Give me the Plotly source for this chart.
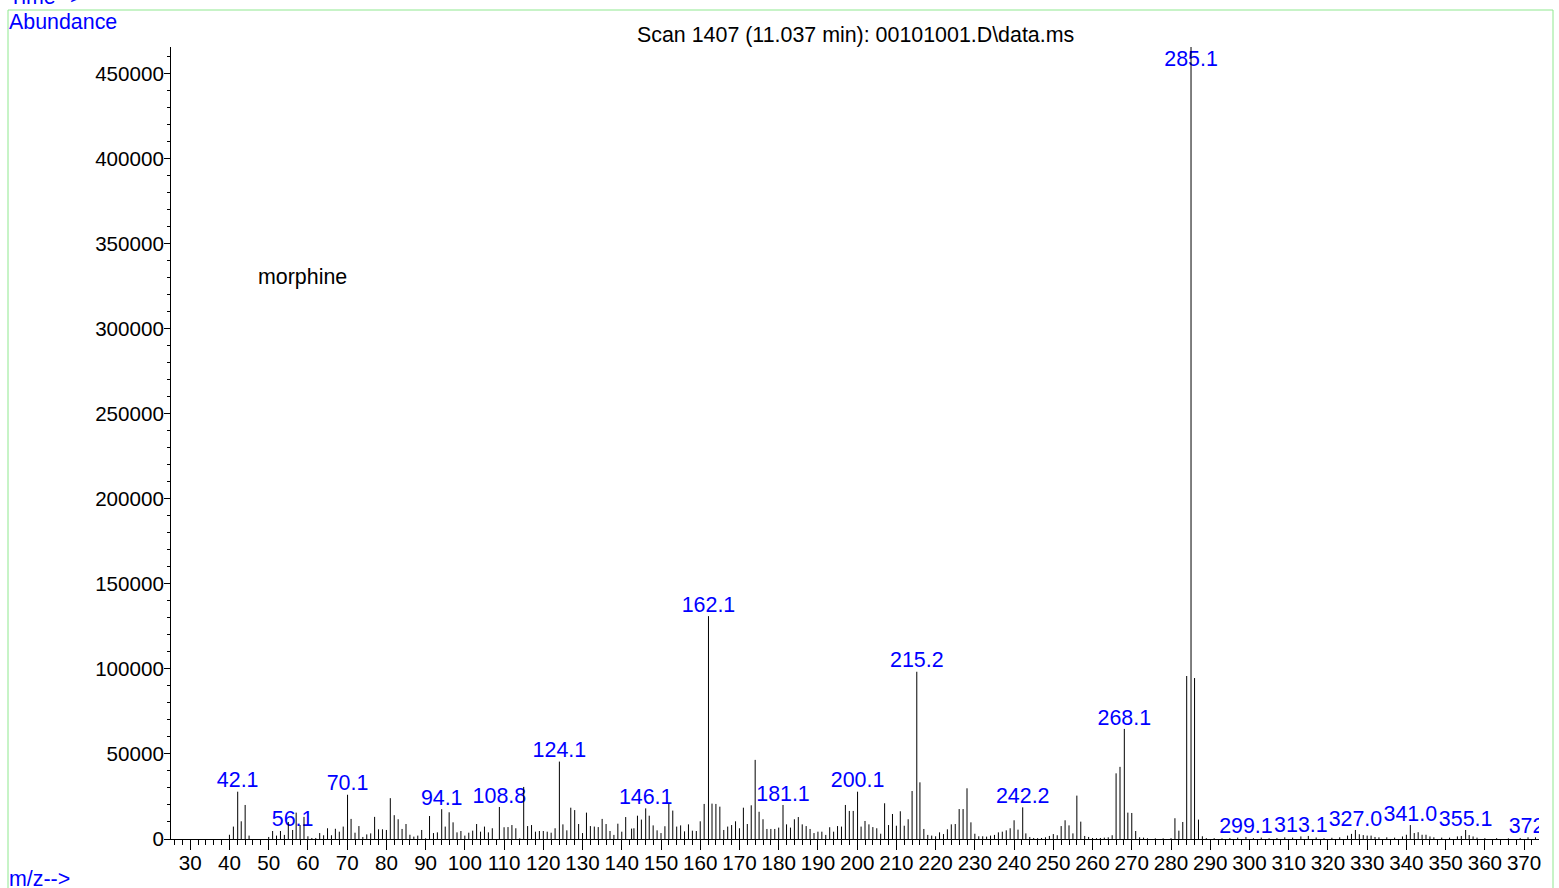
import plotly.graph_objects as go

# ---------------- data (m/z, abundance) ----------------
mz = [40, 41, 42.1, 43, 44, 45, 50, 51, 52, 53, 54, 55, 56.1, 57, 58, 59, 60, 61, 62, 63,
      64, 65, 66, 67, 68, 69, 70.1, 71, 72, 73, 74, 75, 76, 77, 78, 79, 80, 81, 82, 83,
      84, 85, 86, 87, 88, 89, 90, 91, 92, 93, 94.1, 95, 96, 97, 98, 99, 100, 101, 102, 103,
      104, 105, 106, 107, 108.8, 110, 111, 112, 113, 114, 115, 116, 117, 118, 119, 120, 121, 122, 123, 124.1,
      125, 126, 127, 128, 129, 130, 131, 132, 133, 134, 135, 136, 137, 138, 139, 140, 141, 142.5, 143.1, 144,
      145, 146.1, 147, 148, 149, 150, 151, 152, 153, 154, 155, 156, 157, 158, 159, 160, 161, 162.1, 163, 164,
      165, 166, 167, 168, 169, 170, 171, 172, 173, 174, 175, 176, 177, 178, 179, 180, 181.1, 182, 183, 184,
      185, 186, 187, 188, 189, 190, 191, 192, 193, 194, 195, 196, 197, 198, 199, 200.1, 201, 202, 203, 204,
      205, 206, 207, 208, 209, 210, 211, 212, 213, 214, 215.2, 216, 217, 218, 219, 220, 221, 222, 223, 224,
      225, 226, 227, 228, 229, 230, 231, 232, 233, 234, 235, 236, 237, 238, 239, 240, 241, 242.2, 243, 244,
      245, 246, 247, 248, 249, 250, 251, 252, 253, 254, 255, 256, 257, 258, 259, 260, 261, 262, 263, 264,
      265, 266, 267, 268.1, 269, 270, 271, 272, 273, 274, 276, 278, 280, 281, 282, 283, 284, 285.1, 286, 287,
      288, 289, 291, 293, 295, 297, 299.1, 301, 303, 305, 307, 309, 311, 313.1, 315, 317, 319, 321, 323, 325,
      326, 327.0, 328, 329, 330, 331, 332, 333, 335, 337, 339, 340, 341.0, 342, 343, 344, 345, 346, 347, 349,
      351, 353, 354, 355.1, 356, 357, 358, 360, 363, 366, 369, 371, 372.9]

abundance_k = [2.5, 7.3, 27.8, 10.4, 20, 2, 1.2, 4.7, 2, 4.7, 2.4, 10, 5.3, 15.5, 8.2, 13, 1.6, 0.6, 0.6, 3.5,
               2.2, 6.3, 2.2, 6, 4.3, 7.3, 26, 11.8, 3.7, 7.6, 1.2, 2.7, 3.3, 13, 5.7, 5.7, 5.3, 24, 14, 11.6,
               5.9, 8.8, 2.5, 1.4, 2, 5.3, 0.4, 13.5, 3.5, 3.9, 17.5, 7.3, 15.7, 9.8, 3.9, 4.7, 2, 3.7, 4.9, 8.8,
               4.3, 7.3, 3.9, 6.3, 18.8, 6.9, 7, 8.2, 6.3, 0.4, 30.6, 7.6, 8.2, 4.3, 4.7, 4.7, 4.3, 3.7, 6.3, 45.5,
               8.6, 5.1, 18.4, 17, 8.8, 3.5, 15.5, 7.6, 7.3, 7, 11.8, 8.8, 4.7, 2.4, 9, 4.3, 12.9, 6.1, 6.3, 13.7,
               11.4, 18, 13.7, 8, 5.1, 3.5, 7.5, 20.6, 16.7, 7.3, 8, 4.5, 8.6, 4.9, 4.7, 10.4, 20.6, 131, 20.8, 20.6,
               19, 5.3, 7.3, 8.2, 10.4, 6.3, 18.4, 8.8, 19.8, 46.5, 16, 11.6, 5.9, 5.9, 5.9, 6.7, 20, 8.6, 6.7, 11.6,
               12.9, 8.6, 7.6, 5.9, 3.5, 4.3, 4.3, 2.4, 6.9, 4.3, 7.6, 7.3, 20, 16.5, 16.5, 27.8, 7.3, 10.6, 8.6, 7,
               6.3, 3.1, 21, 8.2, 14.7, 7.8, 16.3, 7.8, 11.6, 28.2, 98.3, 33.3, 5.9, 2.4, 2, 1.6, 3.9, 2.9, 5.7, 8.6,
               8.8, 17.6, 17.6, 29.8, 9.8, 3.1, 1.6, 1.6, 1.4, 2, 2.4, 3.9, 4.3, 5.1, 6.3, 11, 5.5, 18.6, 3.3, 1.2,
               0.6, 0.5, 0.6, 1, 1.8, 2.9, 2.2, 7.6, 11, 8, 3.3, 25.5, 10.2, 1.8, 1.2, 0.6, 0.5, 0.6, 0.8, 1,
               2.2, 38.6, 42.4, 64.7, 15.5, 15.3, 4.7, 1, 0.8, 0.4, 0.4, 0.4, 0.5, 12.2, 4.9, 10, 95.8, 466, 94.6, 11.4,
               1.6, 0.5, 0.5, 0.4, 0.6, 0.8, 1.2, 0.5, 0.8, 0.5, 0.6, 1.0, 0.8, 1.5, 1.8, 0.9, 0.5, 0.7, 1.0, 2.0,
               3.0, 5.3, 2.8, 2.3, 2.0, 2.0, 1.2, 1.0, 1.0, 0.8, 1.5, 2.5, 8.2, 3.5, 4.0, 2.5, 2.5, 1.5, 1.0, 0.8,
               0.8, 1.5, 1.8, 5.3, 2.3, 1.5, 0.8, 0.5, 0.5, 0.4, 0.6, 1.0, 1.0]

abundance = [v * 1000 for v in abundance_k]

label_mz = [42.1, 56.1, 70.1, 94.1, 108.8, 124.1, 146.1, 162.1, 181.1, 200.1, 215.2,
            242.2, 268.1, 285.1, 299.1, 313.1, 327.0, 341.0, 355.1, 372.9]
label_text = ["42.1", "56.1", "70.1", "94.1", "108.8", "124.1", "146.1", "162.1", "181.1",
              "200.1", "215.2", "242.2", "268.1", "285.1", "299.1", "313.1", "327.0", "341.0",
              "355.1", "372.9"]

x_ticks = list(range(30, 371, 10))
y_ticks = list(range(0, 450001, 50000))

title_text = "Scan 1407 (11.037 min): 00101001.D\\data.ms"
compound = "morphine"

# ---------------- geometry helpers ----------------
W, H = 1559, 888
L, R, T, B = 171, 20, 47, 49
PW, PH = W - L - R, H - T - B
X_RANGE = [25.1, 373.8]
Y_RANGE = [0, 465500]
Y_CAP = 452000
LABEL_DROP_PX = 1


def px_x(p):
    return (p - L) / PW


def px_y(p):
    return (H - B - p) / PH


FONT = "Liberation Sans, Arial, sans-serif"
BLUE = "#0000ff"
GREEN = "#8fe88f"
TXT = 21.4
TICK = 20.6

# stick segments
seg_x, seg_y = [], []
for m, v in zip(mz, abundance):
    seg_x += [m, m, None]
    seg_y += [0, v, None]

# label positions from the data
drop = LABEL_DROP_PX * (Y_RANGE[1] - Y_RANGE[0]) / PH
lab_y = []
for lm in label_mz:
    i = min(range(len(mz)), key=lambda k: abs(mz[k] - lm))
    lab_y.append(min(abundance[i], Y_CAP) - drop)

fig = go.Figure()
fig.add_trace(go.Scatter(
    x=label_mz, y=lab_y, mode="text", text=label_text, textposition="top center",
    textfont=dict(family=FONT, size=TXT, color=BLUE), cliponaxis=True,
    hoverinfo="skip", showlegend=False))
fig.add_trace(go.Scatter(
    x=seg_x, y=seg_y, mode="lines", line=dict(color="#000000", width=1),
    hoverinfo="skip", showlegend=False, cliponaxis=True))

fig.update_layout(
    width=W, height=H,
    margin=dict(l=L, r=R, t=T, b=B, pad=0),
    paper_bgcolor="white", plot_bgcolor="white",
    font=dict(family=FONT, size=TICK, color="black"),
    showlegend=False,
    xaxis=dict(range=X_RANGE, tickvals=x_ticks, ticktext=[str(t) for t in x_ticks],
               ticks="outside", ticklen=10, tickwidth=1, tickcolor="black",
               ticklabelstandoff=-5,
               showline=True, linecolor="black", linewidth=1, showgrid=False,
               zeroline=False, tickfont=dict(family=FONT, size=TICK, color="black"),
               minor=dict(dtick=2, tick0=0, ticks="outside", ticklen=5, tickcolor="black",
                          showgrid=False)),
    yaxis=dict(range=Y_RANGE, tickvals=y_ticks, ticktext=[str(t) for t in y_ticks],
               ticks="outside", ticklen=6, tickwidth=1, tickcolor="black",
               ticklabelstandoff=-4,
               showline=True, linecolor="black", linewidth=1, showgrid=False,
               zeroline=False, tickfont=dict(family=FONT, size=TICK, color="black"),
               minor=dict(dtick=10000, tick0=0, ticks="outside", ticklen=3, tickcolor="black",
                          showgrid=False)),
)

# green frame
fig.add_shape(type="line", xref="paper", yref="paper",
              x0=px_x(8), x1=px_x(1553), y0=px_y(10), y1=px_y(10),
              line=dict(color=GREEN, width=1))
fig.add_shape(type="line", xref="paper", yref="paper",
              x0=px_x(8), x1=px_x(8), y0=px_y(10), y1=px_y(900),
              line=dict(color=GREEN, width=1))
fig.add_shape(type="line", xref="paper", yref="paper",
              x0=px_x(1553), x1=px_x(1553), y0=px_y(10), y1=px_y(900),
              line=dict(color=GREEN, width=1))


def ann(text, x, y, color, xanchor="left", size=TXT):
    fig.add_annotation(text=text, xref="paper", yref="paper", x=px_x(x), y=px_y(y),
                       xanchor=xanchor, yanchor="middle", showarrow=False,
                       font=dict(family=FONT, size=size, color=color))


ann("Time-->", 7, -3, BLUE)
ann("Abundance", 7, 22, BLUE)
ann("m/z-->", 7, 879, BLUE)
ann(title_text, 855, 35, "black", xanchor="center")
ann(compound, 256, 277, "black")

fig.write_html("out.html", config={"displayModeBar": False},
               post_script="document.body.style.margin='0';document.body.style.overflow='hidden';")
